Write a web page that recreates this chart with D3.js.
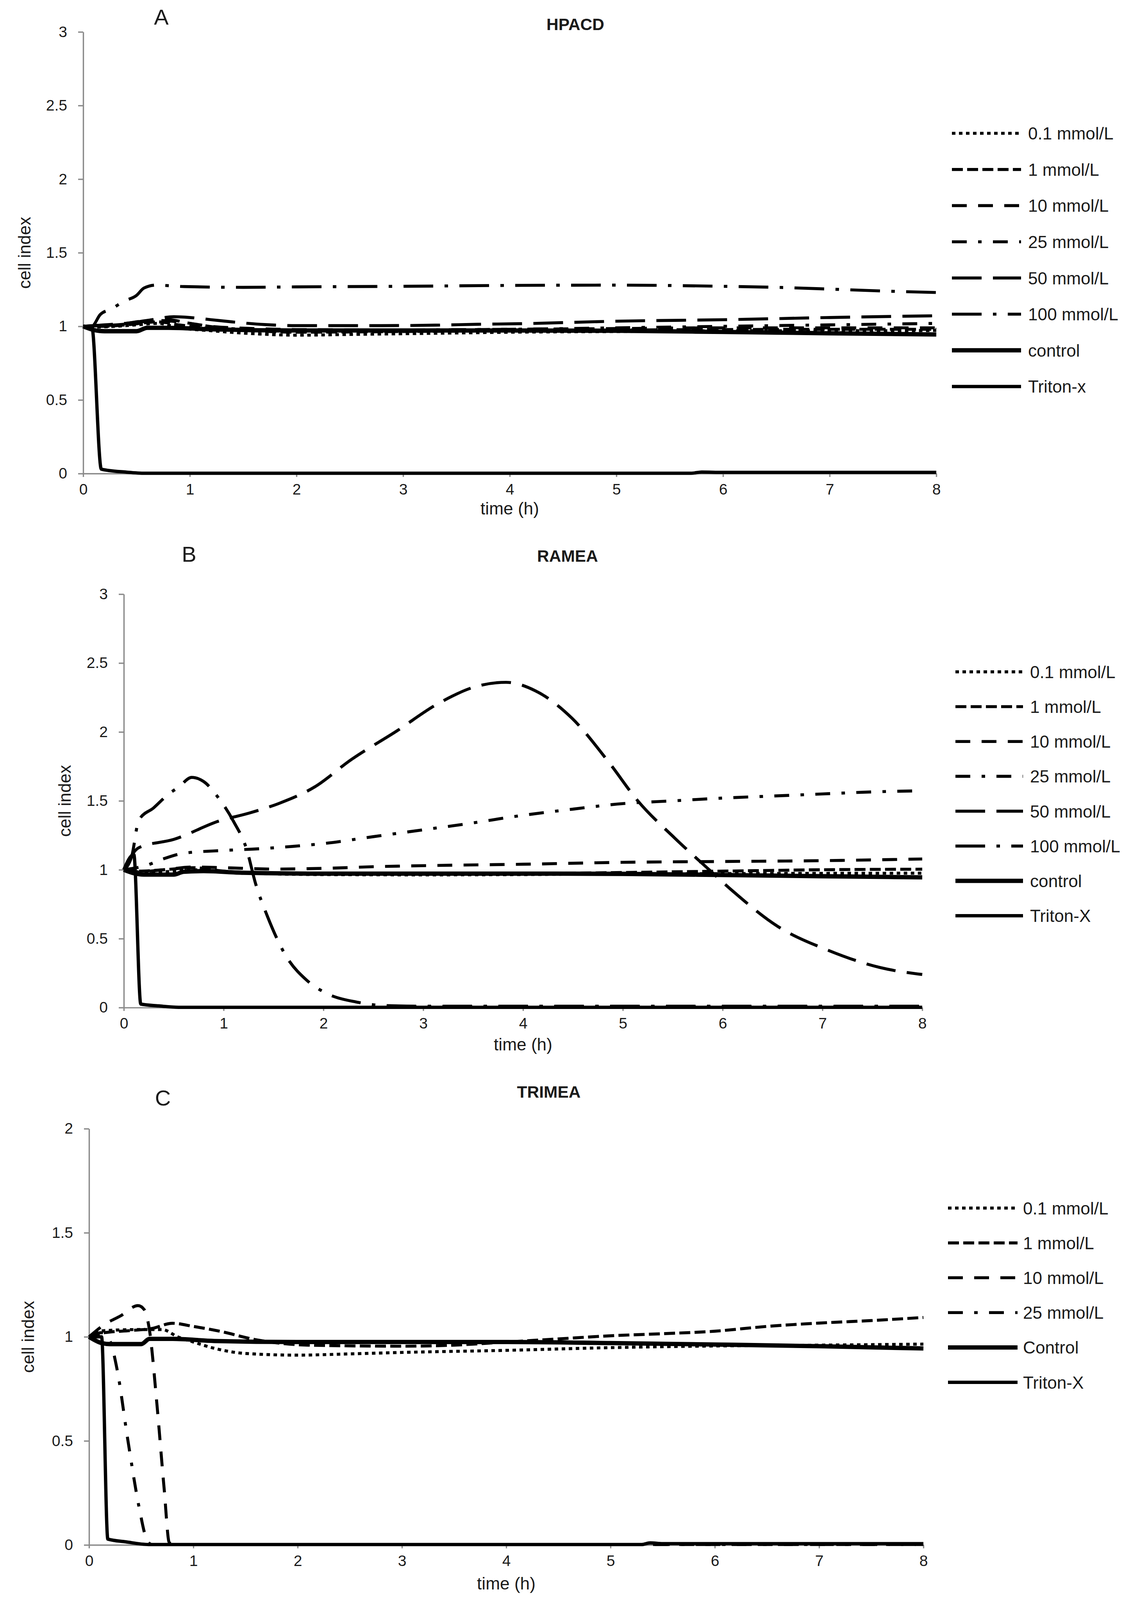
<!DOCTYPE html>
<html>
<head>
<meta charset="utf-8">
<script src="https://cdn.jsdelivr.net/npm/d3@7"></script>
<style>
  html, body { margin: 0; padding: 0; background: #fff; overflow: hidden; }
  svg { display: block; }
  text { font-family: "Liberation Sans", Arial, sans-serif; fill: #1a1a1a; }
</style>
</head>
<body>
<div id="chart"></div>
<script>
// ---- data (time in h, cell index) ----
const timeTicks = [0, 1, 2, 3, 4, 5, 6, 7, 8];
const yTicks3 = [0, 0.5, 1, 1.5, 2, 2.5, 3];
const yTicks2 = [0, 0.5, 1, 1.5, 2];

const legendA = ["0.1 mmol/L", "1 mmol/L", "10 mmol/L", "25 mmol/L", "50 mmol/L", "100 mmol/L", "control", "Triton-x"];
const legendB = ["0.1 mmol/L", "1 mmol/L", "10 mmol/L", "25 mmol/L", "50 mmol/L", "100 mmol/L", "control", "Triton-X"];
const legendC = ["0.1 mmol/L", "1 mmol/L", "10 mmol/L", "25 mmol/L", "Control", "Triton-X"];

// HPACD
const hpacd01 = [[0,1.0],[0.1,0.995],[0.3,1.0],[0.5,1.01],[0.7,1.02],[0.9,0.99],[1.2,0.97],[1.6,0.95],[2,0.94],[2.5,0.945],[3,0.95],[3.5,0.955],[4,0.96],[5,0.965],[6,0.97],[7,0.97],[8,0.972]];
const hpacd1 = [[0,1.0],[0.2,1.0],[0.4,1.01],[0.7,1.03],[0.9,1.01],[1.2,0.985],[1.6,0.97],[2,0.96],[2.5,0.962],[3,0.965],[4,0.97],[5,0.975],[6,0.978],[7,0.98],[8,0.98]];
const hpacd10 = [[0,1.0],[0.2,1.005],[0.4,1.015],[0.7,1.04],[0.9,1.03],[1.2,1.0],[1.6,0.985],[2,0.978],[3,0.975],[4,0.98],[5,0.985],[6,0.99],[7,0.99],[8,0.99]];
const hpacd25 = [[0,1.0],[0.2,1.01],[0.4,1.02],[0.6,1.04],[0.8,1.045],[1,1.02],[1.3,0.99],[1.7,0.975],[2,0.97],[3,0.975],[4,0.98],[5,0.99],[6,1.0],[7,1.01],[8,1.02]];
const hpacd50 = [[0,1.0],[0.2,1.01],[0.4,1.02],[0.6,1.04],[0.85,1.065],[1,1.06],[1.2,1.045],[1.4,1.03],[1.7,1.012],[2,1.005],[2.8,1.005],[3.3,1.008],[3.7,1.014],[4.1,1.018],[5,1.035],[6,1.045],[7,1.06],[8,1.072]];
const hpacd100 = [[0,1.0],[0.08,1.0],[0.16,1.08],[0.27,1.12],[0.38,1.17],[0.5,1.21],[0.57,1.26],[0.68,1.28],[0.95,1.27],[1.5,1.265],[2,1.268],[3,1.272],[4,1.278],[5,1.28],[6,1.272],[6.5,1.265],[7,1.253],[7.5,1.24],[8,1.23]];
const hpacdControl = [[0,1.0],[0.1,0.975],[0.2,0.967],[0.5,0.967],[0.6,0.99],[0.8,0.99],[1.2,0.98],[2,0.972],[3,0.972],[4,0.972],[5,0.97],[6,0.962],[7,0.953],[8,0.945]];
const hpacdTriton = [[0,1.0],[0.08,1.0],[0.17,0.03],[0.4,0.01],[0.58,0.002],[5.7,0.002],[5.8,0.01],[6,0.008],[8,0.008]];

// RAMEA
const ramea01 = [[0,1.0],[0.15,0.98],[0.4,0.985],[0.7,1.0],[1,0.985],[1.5,0.97],[2,0.965],[3,0.963],[4,0.965],[5,0.97],[6,0.972],[7,0.974],[8,0.975]];
const ramea1 = [[0,1.0],[0.15,0.99],[0.4,1.0],[0.7,1.015],[1,0.99],[1.5,0.975],[2,0.968],[3,0.968],[4,0.972],[5,0.98],[6,0.99],[7,1.0],[8,1.004]];
const ramea10 = [[0,1.0],[0.15,0.985],[0.4,1.0],[0.7,1.02],[1,1.015],[1.5,1.005],[2,1.01],[2.5,1.022],[3.2,1.032],[4,1.04],[5,1.054],[6,1.06],[7,1.066],[8,1.078]];
const ramea25 = [[0,1.0],[0.22,1.03],[0.4,1.08],[0.6,1.12],[1,1.14],[1.3,1.15],[1.7,1.17],[2,1.19],[2.5,1.24],[3,1.29],[3.5,1.34],[3.9,1.385],[4.5,1.44],[5,1.48],[5.5,1.5],[6,1.52],[6.5,1.535],[7,1.55],[7.5,1.565],[8,1.573]];
const ramea50 = [[0,1.0],[0.15,1.16],[0.5,1.22],[0.96,1.355],[1.25,1.41],[1.55,1.48],[1.91,1.6],[2.28,1.8],[2.72,2.0],[3.16,2.21],[3.53,2.33],[3.83,2.36],[4.12,2.3],[4.49,2.1],[4.86,1.78],[5.15,1.5],[5.52,1.23],[5.85,1.01],[6.11,0.84],[6.55,0.59],[7.06,0.415],[7.58,0.29],[8,0.24]];
const ramea100 = [[0,1.0],[0.08,1.1],[0.15,1.36],[0.3,1.45],[0.45,1.55],[0.55,1.6],[0.68,1.67],[0.8,1.64],[0.95,1.52],[1.1,1.35],[1.23,1.15],[1.32,0.9],[1.44,0.66],[1.62,0.38],[1.83,0.2],[2.04,0.1],[2.33,0.04],[2.6,0.015],[3,0.01],[8,0.01]];
const rameaControl = [[0,1.0],[0.1,0.975],[0.2,0.965],[0.5,0.965],[0.6,0.985],[0.8,0.99],[1.2,0.978],[2,0.972],[3,0.972],[4,0.972],[5,0.97],[6,0.962],[7,0.953],[8,0.945]];
const rameaTriton = [[0,1.0],[0.1,1.11],[0.17,0.025],[0.35,0.012],[0.55,0.002],[8,0.002]];

// TRIMEA
const trimea01 = [[0,1.0],[0.15,1.03],[0.5,1.035],[0.7,1.035],[0.85,1.0],[1,0.975],[1.2,0.945],[1.5,0.92],[2,0.912],[2.5,0.918],[3,0.925],[4,0.935],[5,0.948],[6,0.956],[7,0.96],[8,0.965]];
const trimea1 = [[0,1.0],[0.15,1.02],[0.4,1.03],[0.6,1.04],[0.8,1.065],[1,1.05],[1.25,1.027],[1.6,0.986],[2.1,0.96],[3,0.955],[3.5,0.96],[4,0.975],[4.5,0.99],[5,1.005],[5.5,1.015],[6,1.027],[6.5,1.05],[7,1.066],[7.5,1.078],[8,1.093]];
const trimea10 = [[0,1.0],[0.15,1.06],[0.3,1.1],[0.47,1.15],[0.53,1.13],[0.58,1.03],[0.65,0.68],[0.72,0.27],[0.77,0.01],[0.85,0.002],[8,0.002]];
const trimea25 = [[0,1.0],[0.12,1.02],[0.2,0.98],[0.27,0.84],[0.37,0.51],[0.48,0.18],[0.55,0.03],[0.6,0.002],[8,0.002]];
const trimeaControl = [[0,1.0],[0.12,0.97],[0.2,0.965],[0.5,0.965],[0.58,0.99],[0.8,0.99],[1.2,0.98],[2,0.975],[3,0.975],[4,0.975],[5,0.97],[6,0.963],[7,0.955],[8,0.944]];
const trimeaTriton = [[0,1.0],[0.12,1.0],[0.18,0.028],[0.35,0.015],[0.57,0.002],[5.3,0.002],[5.38,0.01],[5.5,0.006],[8,0.006]];

// ---- line styles, same order as the legend ----
const styles = [
  { w: 9, dash: [9, 9] },          // 0.1
  { w: 9, dash: [28, 11] },        // 1
  { w: 9, dash: [38, 29] },        // 10
  { w: 9, dash: [38, 29, 9, 29] }, // 25
  { w: 9, dash: [76, 29] },        // 50
  { w: 9, dash: [76, 29, 9, 29] }, // 100
  { w: 13, dash: null },           // control
  { w: 10, dash: null }            // triton
];

// layout in the 2939 x 5666 design frame
const panels = [
  { letter: "A", title: "HPACD", yMax: 3, yTicks: yTicks3,
    series: [hpacd01, hpacd1, hpacd10, hpacd25, hpacd50, hpacd100, hpacdControl, hpacdTriton],
    labels: legendA, styleIdx: [0,1,2,3,4,5,6,7],
    x0: 213, x1: 2397, yTop: 113, yBot: 1677,
    letterX: 413, letterY: 87, titleX: 1473, titleY: 106,
    yLabelX: 62, xLabelY: 1822,
    legX1: 2437, legX2: 2614, legTx: 2632, legY0: 472, legDy: 128.1 },
  { letter: "B", title: "RAMEA", yMax: 3, yTicks: yTicks3,
    series: [ramea01, ramea1, ramea10, ramea25, ramea50, ramea100, rameaControl, rameaTriton],
    labels: legendB, styleIdx: [0,1,2,3,4,5,6,7],
    x0: 317, x1: 2361, yTop: 2104, yBot: 3568,
    letterX: 484, letterY: 1989, titleX: 1453, titleY: 1989,
    yLabelX: 165, xLabelY: 3720,
    legX1: 2446, legX2: 2619, legTx: 2637, legY0: 2379, legDy: 123.4 },
  { letter: "C", title: "TRIMEA", yMax: 2, yTicks: yTicks2,
    series: [trimea01, trimea1, trimea10, trimea25, trimeaControl, trimeaTriton],
    labels: legendC, styleIdx: [0,1,2,3,6,7],
    x0: 228, x1: 2364, yTop: 3997, yBot: 5471,
    letterX: 417, letterY: 3915, titleX: 1405, titleY: 3887,
    yLabelX: 71, xLabelY: 5628,
    legX1: 2427, legX2: 2605, legTx: 2619, legY0: 4278, legDy: 123.4 }
];

const W = 2939, H = 5666;
// fill the window; if it is not the 2939 x 5666 design size,
// positions follow the window and glyphs stay undistorted
const vw = window.innerWidth || W, vh = window.innerHeight || H;
const kx = vw / W, ky = vh / H, kf = Math.sqrt(kx * ky);
const sx = v => v * kx, sy = v => v * ky, sf = v => v * kf;
const dash = d => d ? d.map(v => (v * kx).toFixed(2)).join(",") : null;

const svg = d3.select("#chart").append("svg")
  .attr("width", vw).attr("height", vh);

const axisColor = "#8a8a8a";

panels.forEach(p => {
  const g = svg.append("g");
  const x = d3.scaleLinear().domain([0, 8]).range([sx(p.x0), sx(p.x1)]);
  const y = d3.scaleLinear().domain([0, p.yMax]).range([sy(p.yBot), sy(p.yTop)]);

  // axes
  const yAxis = g.append("g")
    .attr("transform", `translate(${sx(p.x0)},0)`)
    .call(d3.axisLeft(y).tickValues(p.yTicks).tickFormat(d => String(d))
      .tickSize(sx(13)).tickSizeOuter(0).tickPadding(sx(28)));
  const xAxis = g.append("g")
    .attr("transform", `translate(0,${sy(p.yBot)})`)
    .call(d3.axisBottom(x).tickValues(timeTicks).tickFormat(d => String(d))
      .tickSize(sy(12)).tickSizeOuter(0).tickPadding(sy(24)));
  [yAxis, xAxis].forEach(a => {
    a.selectAll("path, line").attr("stroke", axisColor).attr("stroke-width", sf(4));
    a.selectAll("text").attr("font-size", sf(46)).attr("fill", "#1a1a1a")
      .style("font-family", "'Liberation Sans', Arial, sans-serif");
  });

  // series
  const line = d3.line().x(d => x(d[0])).y(d => y(d[1])).curve(d3.curveMonotoneX);
  p.series.forEach((s, i) => {
    const st = styles[p.styleIdx[i]];
    g.append("path")
      .datum(s)
      .attr("d", line)
      .attr("fill", "none")
      .attr("stroke", "#000")
      .attr("stroke-width", sf(st.w))
      .attr("stroke-linejoin", "round")
      .attr("stroke-dasharray", dash(st.dash));
  });

  // legend
  p.labels.forEach((lab, i) => {
    const st = styles[p.styleIdx[i]];
    const ly = sy(p.legY0 + i * p.legDy);
    g.append("line")
      .attr("x1", sx(p.legX1)).attr("x2", sx(p.legX2))
      .attr("y1", ly).attr("y2", ly)
      .attr("stroke", "#000")
      .attr("stroke-width", sf(st.w))
      .attr("stroke-dasharray", dash(st.dash));
    g.append("text")
      .attr("x", sx(p.legTx)).attr("y", ly)
      .attr("dy", "0.36em")
      .attr("font-size", sf(52))
      .text(lab);
  });

  // titles and labels
  g.append("text")
    .attr("x", sx(p.letterX)).attr("y", sy(p.letterY))
    .attr("text-anchor", "middle")
    .attr("font-size", sf(66))
    .text(p.letter);
  g.append("text")
    .attr("x", sx(p.titleX)).attr("y", sy(p.titleY))
    .attr("text-anchor", "middle")
    .attr("font-size", sf(50))
    .attr("font-weight", "bold")
    .text(p.title);
  g.append("text")
    .attr("transform", `translate(${sx(p.yLabelX)},${sy((p.yTop + p.yBot) / 2)}) rotate(-90)`)
    .attr("text-anchor", "middle")
    .attr("dy", "0.36em")
    .attr("font-size", sf(52))
    .text("cell index");
  g.append("text")
    .attr("x", sx((p.x0 + p.x1) / 2)).attr("y", sy(p.xLabelY))
    .attr("text-anchor", "middle")
    .attr("font-size", sf(52))
    .text("time (h)");
});
</script>
</body>
</html>
